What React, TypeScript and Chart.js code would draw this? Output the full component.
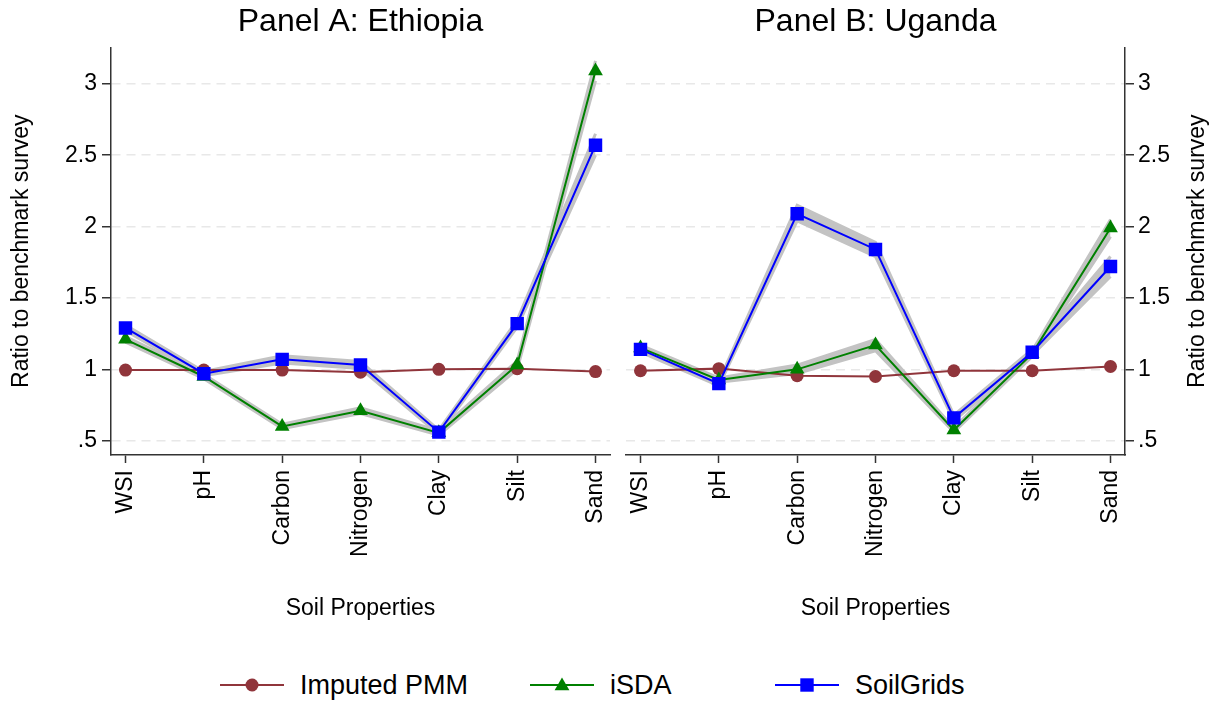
import { useEffect, useRef } from 'react'
import { Chart, registerables } from 'chart.js'

Chart.register(...registerables)

const FONT = "'Liberation Sans', Arial, Helvetica, sans-serif"
const MAROON = '#90353b'
const GREEN = '#008000'
const BLUE = '#0000ff'
const BAND = '#c3c3c3'
const AXIS = '#333333'

const properties = ['WSI', 'pH', 'Carbon', 'Nitrogen', 'Clay', 'Silt', 'Sand']
const yTickValues = [0.5, 1, 1.5, 2, 2.5, 3]
const yTickLabels = ['.5', '1', '1.5', '2', '2.5', '3']

// Panel A: Ethiopia
const pmmEthiopia = [0.995, 0.995, 0.995, 0.98, 1.0, 1.005, 0.984]
const isdaEthiopia = [1.21, 0.95, 0.6, 0.71, 0.555, 1.03, 3.09]
const isdaEthiopiaLo = [1.19, 0.935, 0.585, 0.69, 0.54, 1.0, 3.02]
const isdaEthiopiaHi = [1.23, 0.965, 0.615, 0.73, 0.57, 1.06, 3.16]
const sgEthiopia = [1.29, 0.97, 1.07, 1.03, 0.56, 1.32, 2.57]
const sgEthiopiaLo = [1.27, 0.955, 1.045, 1.005, 0.545, 1.295, 2.5]
const sgEthiopiaHi = [1.31, 0.985, 1.095, 1.055, 0.575, 1.345, 2.65]

// Panel B: Uganda
const pmmUganda = [0.99, 1.005, 0.955, 0.95, 0.99, 0.99, 1.02]
const isdaUganda = [1.15, 0.925, 1.0, 1.17, 0.575, 1.11, 1.99]
const isdaUgandaLo = [1.13, 0.91, 0.97, 1.13, 0.56, 1.09, 1.93]
const isdaUgandaHi = [1.17, 0.94, 1.03, 1.21, 0.59, 1.13, 2.05]
const sgUganda = [1.14, 0.9, 2.09, 1.84, 0.66, 1.12, 1.72]
const sgUgandaLo = [1.12, 0.885, 2.04, 1.79, 0.64, 1.1, 1.65]
const sgUgandaHi = [1.16, 0.915, 2.15, 1.89, 0.68, 1.14, 1.79]

const CANVAS_H = 650

interface PanelProps {
  title: string
  side: 'left' | 'right'
  left: number
  width: number
  pmm: number[]
  isda: number[]
  isdaLo: number[]
  isdaHi: number[]
  sg: number[]
  sgLo: number[]
  sgHi: number[]
}

const toXY = (arr: number[]) => arr.map((y, x) => ({ x, y }))

function Panel({ title, side, left, width, pmm, isda, isdaLo, isdaHi, sg, sgLo, sgHi }: PanelProps) {
  const canvasRef = useRef<HTMLCanvasElement>(null)

  useEffect(() => {
    if (!canvasRef.current) return
    const isLeft = side === 'left'

    const band = (data: number[], fill: string | boolean) => ({
      label: '',
      data: toXY(data),
      borderColor: BAND,
      backgroundColor: BAND,
      borderWidth: 3,
      pointRadius: 0,
      fill,
      order: 10,
    })

    // right-hand axis title reads bottom-to-top, like the left one
    const rightTitle = {
      id: 'rightTitle',
      afterDraw(chart: Chart) {
        if (isLeft) return
        const c = chart.ctx
        const { top, bottom } = chart.chartArea
        c.save()
        c.translate(chart.width - 19, (top + bottom) / 2)
        c.rotate(-Math.PI / 2)
        c.font = `23px ${FONT}`
        c.fillStyle = '#000'
        c.textAlign = 'center'
        c.textBaseline = 'middle'
        c.fillText('Ratio to benchmark survey', 0, 0)
        c.restore()
      },
    }

    const chart = new Chart(canvasRef.current, {
      type: 'line',
      plugins: [rightTitle],
      data: {
        datasets: [
          band(sgHi, '+1'),
          band(sgLo, false),
          band(isdaHi, '+1'),
          band(isdaLo, false),
          {
            label: 'Imputed PMM', data: toXY(pmm), borderColor: MAROON, backgroundColor: MAROON,
            borderWidth: 2, pointStyle: 'circle', pointRadius: 6.5, pointBorderWidth: 0, order: 3,
          },
          {
            label: 'iSDA', data: toXY(isda), borderColor: GREEN, backgroundColor: GREEN,
            borderWidth: 2, pointStyle: 'triangle', pointRadius: 8.5, pointBorderWidth: 0, order: 2,
          },
          {
            label: 'SoilGrids', data: toXY(sg), borderColor: BLUE, backgroundColor: BLUE,
            borderWidth: 2, pointStyle: 'rect', pointRadius: 9.5, pointBorderWidth: 0, order: 1,
          },
        ],
      },
      options: {
        responsive: false,
        animation: false,
        layout: { padding: { left: isLeft ? 0 : 11, right: isLeft ? 10 : 0, top: 0, bottom: 0 } },
        plugins: {
          legend: { display: false },
          tooltip: { enabled: false },
          title: {
            display: true, text: title, color: '#000', fullSize: false,
            font: { family: FONT, size: 32, weight: 'normal' },
            padding: { top: 3, bottom: 6 },
          },
        },
        scales: {
          x: {
            type: 'linear', position: 'bottom', min: -0.185, max: 6.185,
            afterBuildTicks: (s: any) => { s.ticks = properties.map((_, i) => ({ value: i })) },
            afterFit: (s: any) => { s.height = CANVAS_H - 455; s.paddingLeft = 0; s.paddingRight = 0 },
            ticks: {
              callback: (v: number | string) => properties[Math.round(Number(v))] ?? '',
              minRotation: 90, maxRotation: 90, autoSkip: false, padding: 7,
              color: '#000', font: { family: FONT, size: 23 },
            },
            grid: { drawOnChartArea: false, tickLength: 8, tickColor: AXIS, tickWidth: 1.5 },
            border: { color: AXIS, width: 1.5 },
            title: {
              display: true, text: 'Soil Properties', color: '#000',
              font: { family: FONT, size: 23 }, padding: { top: 0, bottom: 28 },
            },
          },
          y: {
            type: 'linear', position: isLeft ? 'left' : 'right', min: 0.4, max: 3.255,
            afterBuildTicks: (s: any) => { s.ticks = yTickValues.map(v => ({ value: v })) },
            afterFit: (s: any) => { s.width = isLeft ? 111 : 92; s.paddingTop = 0; s.paddingBottom = 0 },
            ticks: {
              callback: (v: number | string) => yTickLabels[yTickValues.indexOf(Number(v))] ?? '',
              padding: isLeft ? 5 : 4, color: '#000', font: { family: FONT, size: 23 },
            },
            grid: { color: '#e8e8e8', lineWidth: 1.5, tickLength: 9, tickColor: AXIS, tickWidth: 1.5 },
            border: { color: AXIS, width: 1.5, dash: [9, 6] },
            title: {
              display: isLeft, text: 'Ratio to benchmark survey', color: '#000',
              font: { family: FONT, size: 23 }, padding: { top: 8, bottom: 0 },
            },
          },
        },
      },
    } as any)

    return () => { chart.destroy() }
  }, [title, side, pmm, isda, isdaLo, isdaHi, sg, sgLo, sgHi])

  return (
    <div style={{ position: 'absolute', left, top: 0, width, height: CANVAS_H }}>
      <canvas ref={canvasRef} width={width} height={CANVAS_H} />
    </div>
  )
}

function LegendItem({ x, textX, color, marker, label }: { x: number; textX: number; color: string; marker: 'circle' | 'triangle' | 'square'; label: string }) {
  return (
    <>
      <svg width={64} height={22} style={{ position: 'absolute', left: x, top: 674 }}>
        <line x1={0} y1={11} x2={64} y2={11} stroke={color} strokeWidth={2} />
        {marker === 'circle' && <circle cx={32} cy={11} r={6.5} fill={color} />}
        {marker === 'triangle' && <polygon points="32,3.5 39.4,16.3 24.6,16.3" fill={color} />}
        {marker === 'square' && <rect x={25.3} y={4.3} width={13.4} height={13.4} fill={color} />}
      </svg>
      <div style={{ position: 'absolute', left: textX, top: 668, height: 34, lineHeight: '34px', fontSize: 27, fontFamily: FONT, color: '#000', whiteSpace: 'nowrap' }}>
        {label}
      </div>
    </>
  )
}

export default function App() {
  return (
    <div style={{ position: 'absolute', left: 0, top: 0, width: 1217, height: 704, background: '#fff', overflow: 'hidden' }}>
      <Panel title="Panel A: Ethiopia" side="left" left={0} width={620}
        pmm={pmmEthiopia} isda={isdaEthiopia} isdaLo={isdaEthiopiaLo} isdaHi={isdaEthiopiaHi}
        sg={sgEthiopia} sgLo={sgEthiopiaLo} sgHi={sgEthiopiaHi} />
      <Panel title="Panel B: Uganda" side="right" left={615} width={602}
        pmm={pmmUganda} isda={isdaUganda} isdaLo={isdaUgandaLo} isdaHi={isdaUgandaHi}
        sg={sgUganda} sgLo={sgUgandaLo} sgHi={sgUgandaHi} />
      <LegendItem x={220} textX={300} color={MAROON} marker="circle" label="Imputed PMM" />
      <LegendItem x={530} textX={610} color={GREEN} marker="triangle" label="iSDA" />
      <LegendItem x={775} textX={855} color={BLUE} marker="square" label="SoilGrids" />
    </div>
  )
}
